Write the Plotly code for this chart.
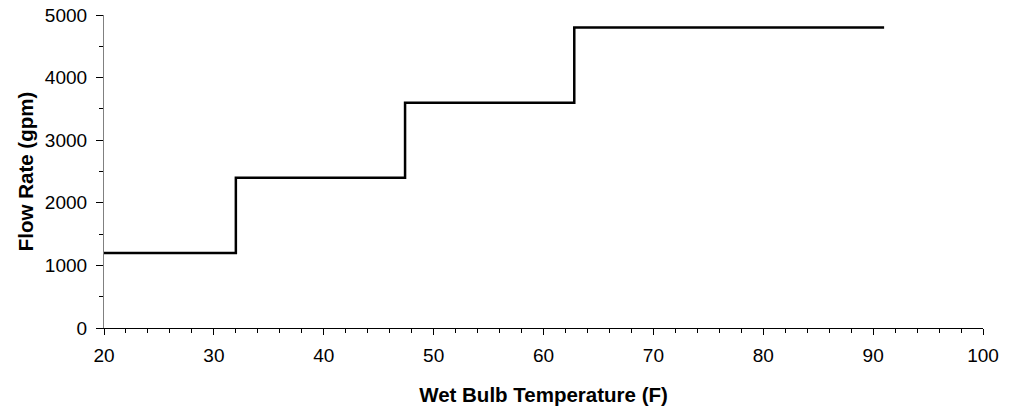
import plotly.graph_objects as go

# Data (step function, hv)
wet_bulb_temp = [20, 32, 47.4, 62.8, 91]
flow_rate = [1200, 2400, 3600, 4800, 4800]

x_title = "Wet Bulb Temperature (F)"
y_title = "Flow Rate (gpm)"

fig = go.Figure()
fig.add_trace(go.Scatter(
    x=wet_bulb_temp, y=flow_rate, mode="lines", line_shape="hv",
    line=dict(color="black", width=2.5), showlegend=False, cliponaxis=False,
))

font_family = "Liberation Sans, Arial, sans-serif"

fig.update_layout(
    width=1010, height=409,
    margin=dict(l=104, r=27, t=15, b=81),
    paper_bgcolor="white", plot_bgcolor="white",
    font=dict(family=font_family, color="black", size=19),
)
fig.update_xaxes(
    range=[20, 100], dtick=10, tick0=20,
    automargin=False,
    showgrid=False, zeroline=False,
    showline=True, linecolor="black", linewidth=1.2,
    ticks="outside", ticklen=6, tickwidth=1.2, tickcolor="black",
    ticklabelstandoff=4,
    minor=dict(dtick=2, ticks="outside", ticklen=4, tickcolor="black", tickwidth=1),
    tickfont=dict(size=19, family=font_family),
    title=dict(text="<b>" + x_title + "</b>", font=dict(size=20.5, family=font_family), standoff=22),
)
fig.update_yaxes(
    range=[0, 5000], dtick=1000,
    automargin=False,
    showgrid=False, zeroline=False,
    showline=True, linecolor="#808080", linewidth=1.2,
    ticks="outside", ticklen=7, tickwidth=1.2, tickcolor="black",
    ticklabelstandoff=5,
    minor=dict(dtick=500, ticks="outside", ticklen=4, tickcolor="black", tickwidth=1),
    tickfont=dict(size=19, family=font_family),
    title=dict(text="<b>" + y_title + "</b>", font=dict(size=20.5, family=font_family), standoff=5),
)

fig.write_html("out.html")
